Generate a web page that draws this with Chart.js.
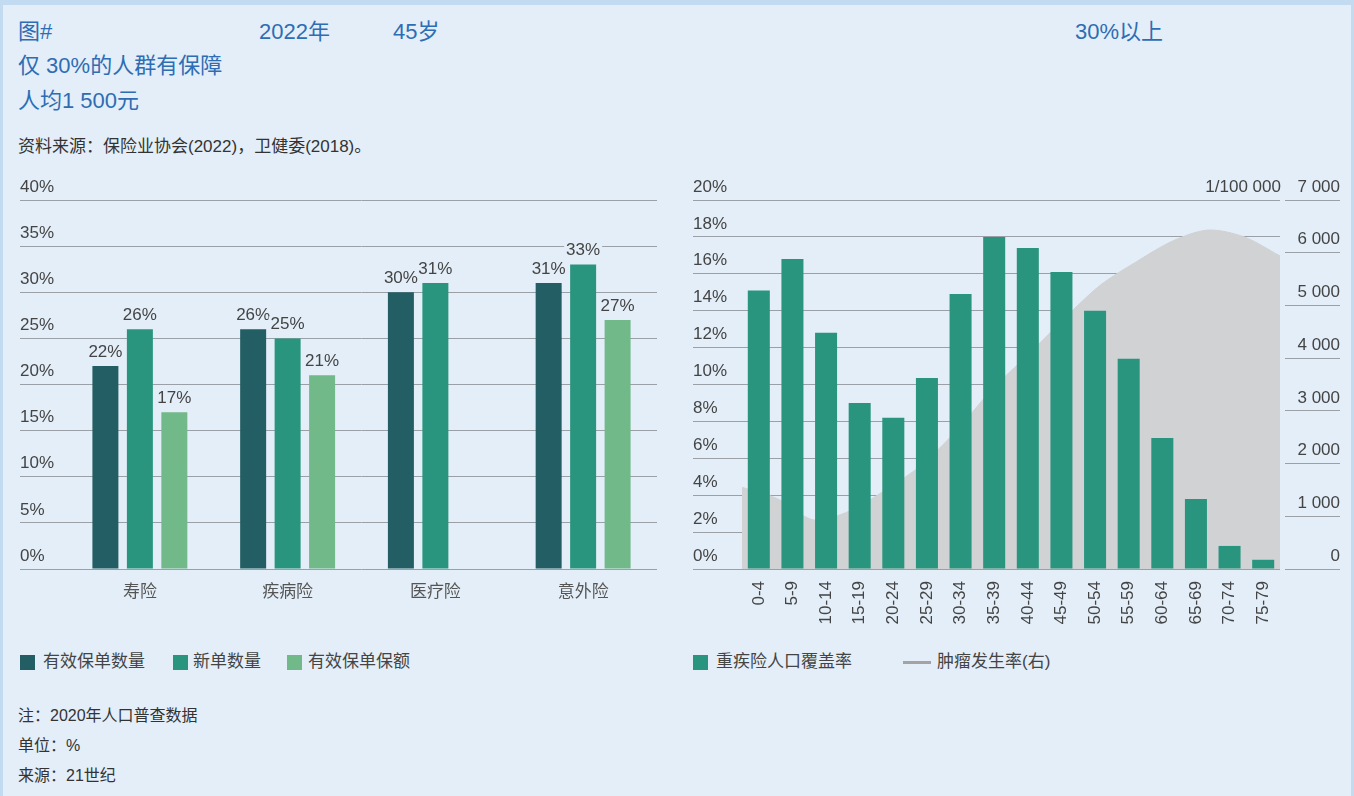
<!DOCTYPE html>
<html>
<head>
<meta charset="utf-8">
<script src="https://cdn.jsdelivr.net/npm/chart.js@4.4.0/dist/chart.umd.min.js"></script>
<style>
  body { margin: 0; width: 1354px; height: 796px; background: #e3eef8; position: relative; overflow: hidden;
         font-family: "Liberation Sans", "Noto Sans CJK SC", sans-serif; }
  #frame { position: absolute; left: 0; top: 0; width: 1354px; height: 796px; box-sizing: border-box;
           border-top: 5px solid #c3dbf0; border-left: 3px solid #c3dbf0; border-right: 3px solid #c3dbf0; }
  .t { position: absolute; white-space: nowrap; }
  .blue { color: #2e6db4; font-size: 22px; line-height: 26px; }
  .src { color: #333; font-size: 17px; line-height: 20px; }
  .note { color: #333; font-size: 16px; line-height: 20px; }
  .lg { color: #444; font-size: 17px; line-height: 20px; }
  .sq { position: absolute; width: 15px; height: 15px; }
  .box { position: absolute; }
</style>
</head>
<body>
<div id="frame"></div>

<div class="t blue" style="left:18px;top:19px">图#</div>
<div class="t blue" style="left:259px;top:19px">2022年</div>
<div class="t blue" style="left:393px;top:19px">45岁</div>
<div class="t blue" style="left:1075px;top:19px">30%以上</div>
<div class="t blue" style="left:18px;top:53px">仅 30%的人群有保障</div>
<div class="t blue" style="left:18px;top:88px">人均1 500元</div>
<div class="t src" style="left:18px;top:137px">资料来源：保险业协会(2022)，卫健委(2018)。</div>

<div class="box" style="left:0;top:170px;width:680px;height:450px"><canvas id="left" width="680" height="450"></canvas></div>
<div class="box" style="left:680px;top:170px;width:674px;height:470px"><canvas id="right" width="674" height="470"></canvas></div>

<div class="t lg" style="left:1100px;top:177px;width:181px;text-align:right">1/100 000</div>

<div class="sq" style="left:20px;top:655px;background:#225e63"></div>
<div class="t lg" style="left:43px;top:652px">有效保单数量</div>
<div class="sq" style="left:173px;top:655px;background:#2a957f"></div>
<div class="t lg" style="left:193px;top:652px">新单数量</div>
<div class="sq" style="left:287px;top:655px;background:#72b98a"></div>
<div class="t lg" style="left:308px;top:652px">有效保单保额</div>

<div class="sq" style="left:693px;top:655px;background:#2a957f"></div>
<div class="t lg" style="left:716px;top:652px">重疾险人口覆盖率</div>
<div class="box" style="left:903px;top:661px;width:28px;height:3px;background:#a3a3a3"></div>
<div class="t lg" style="left:937px;top:652px">肿瘤发生率(右)</div>

<div class="t note" style="left:18px;top:706px">注：2020年人口普查数据</div>
<div class="t note" style="left:18px;top:736px">单位：%</div>
<div class="t note" style="left:18px;top:766px">来源：21世纪</div>

<script>
// left chart: product lines
const products = ["寿险", "疾病险", "医疗险", "意外险"];
const policiesInForce = [22, 26, 30, 31];
const newPolicies = [26, 25, 31, 33];
const sumInsured = [17, 21, null, 27];

// right chart: age groups
const ageGroups = ["0-4", "5-9", "10-14", "15-19", "20-24", "25-29", "30-34", "35-39",
                   "40-44", "45-49", "50-54", "55-59", "60-64", "65-69", "70-74", "75-79"];
const ciCoverage = [15.1, 16.8, 12.8, 9.0, 8.2, 10.35, 14.9, 18.0,
                    17.4, 16.1, 14.0, 11.4, 7.1, 3.8, 1.25, 0.5];
const cancerIncidence = [1550, 1330, 930, 1100, 1500, 1970, 2640, 3430,
                         4080, 4760, 5390, 5830, 6220, 6430, 6300, 5940];

const leftTicks = [0, 5, 10, 15, 20, 25, 30, 35, 40];

Chart.defaults.font.family = '"Liberation Sans", "Noto Sans CJK SC", sans-serif';
Chart.defaults.font.size = 17;
Chart.defaults.color = "#444";

const gridColor = "#9aa0a6";
const bg = "#e3eef8";

// value labels above bars, with a background box so grid lines break behind them
const valueLabels = {
  id: "valueLabels",
  afterDatasetsDraw(chart) {
    const ctx = chart.ctx;
    ctx.save();
    ctx.font = '17px "Liberation Sans", sans-serif';
    ctx.textAlign = "center";
    ctx.textBaseline = "middle";
    chart.data.datasets.forEach((ds, i) => {
      chart.getDatasetMeta(i).data.forEach((bar, j) => {
        const v = ds.data[j];
        if (v == null) return;
        const txt = v + "%";
        const w = ctx.measureText(txt).width;
        const y = bar.y - 14;
        ctx.fillStyle = bg;
        ctx.fillRect(bar.x - w / 2 - 2, y - 8, w + 4, 16);
        ctx.fillStyle = "#444";
        ctx.fillText(txt, bar.x, y);
      });
    });
    ctx.restore();
  }
};

new Chart(document.getElementById("left"), {
  type: "bar",
  data: {
    labels: products,
    datasets: [
      { label: "有效保单数量", data: policiesInForce, backgroundColor: "#225e63" },
      { label: "新单数量", data: newPolicies, backgroundColor: "#2a957f" },
      { label: "有效保单保额", data: sumInsured, backgroundColor: "#72b98a" }
    ]
  },
  options: {
    responsive: false,
    animation: false,
    categoryPercentage: 0.70,
    barPercentage: 0.754,
    layout: { padding: { left: 20, right: 23, top: 30, bottom: 11 } },
    plugins: { legend: { display: false }, tooltip: { enabled: false } },
    scales: {
      x: {
        grid: { display: false, drawTicks: false },
        border: { display: false },
        ticks: { padding: 13, color: "#555" },
        afterFit: s => { s.height = 40; }
      },
      y: {
        min: 0, max: 40,
        afterBuildTicks: s => { s.ticks = leftTicks.map(v => ({ value: v })); },
        ticks: { callback: v => v + "%", crossAlign: "far", labelOffset: -13 },
        grid: { color: gridColor, tickLength: 46 },
        border: { display: false },
        afterFit: s => { s.width = 46; }
      }
    }
  },
  plugins: [valueLabels]
});

new Chart(document.getElementById("right"), {
  data: {
    labels: ageGroups,
    datasets: [
      { type: "bar", label: "重疾险人口覆盖率", data: ciCoverage, backgroundColor: "#2a957f",
        categoryPercentage: 1, barPercentage: 0.655, grouped: false,
        xAxisID: "x", yAxisID: "y", order: 1 },
      { type: "line", label: "肿瘤发生率(右)", data: cancerIncidence, xAxisID: "x2", yAxisID: "y2",
        fill: "origin", backgroundColor: "#d1d2d4", borderColor: "#d1d2d4", borderWidth: 1,
        pointRadius: 0, tension: 0.3, order: 2 }
    ]
  },
  options: {
    responsive: false,
    animation: false,
    layout: { padding: { left: 13, right: 14, top: 30, bottom: 11 } },
    plugins: { legend: { display: false }, tooltip: { enabled: false } },
    scales: {
      x: {
        grid: { display: false, drawTicks: false },
        border: { display: false },
        ticks: { minRotation: 90, maxRotation: 90, autoSkip: false, padding: 12, color: "#444" },
        afterFit: s => { s.height = 60; }
      },
      x2: { type: "category", offset: false, display: false },
      y: {
        position: "left",
        min: 0, max: 20,
        ticks: { stepSize: 2, callback: v => v + "%", crossAlign: "far", labelOffset: -13 },
        grid: { color: gridColor, tickLength: 49 },
        border: { display: false },
        afterFit: s => { s.width = 49; }
      },
      y2: {
        position: "right",
        min: 0, max: 7000,
        ticks: {
          stepSize: 1000, crossAlign: "far", labelOffset: -13,
          callback: v => String(v).replace(/\B(?=(\d{3})+(?!\d))/g, " ")
        },
        grid: { drawOnChartArea: false, color: gridColor, tickLength: 60, tickBorderDash: [0, 5, 55, 100] },
        border: { display: false },
        afterFit: s => { s.width = 60; }
      }
    }
  }
});
</script>
</body>
</html>
